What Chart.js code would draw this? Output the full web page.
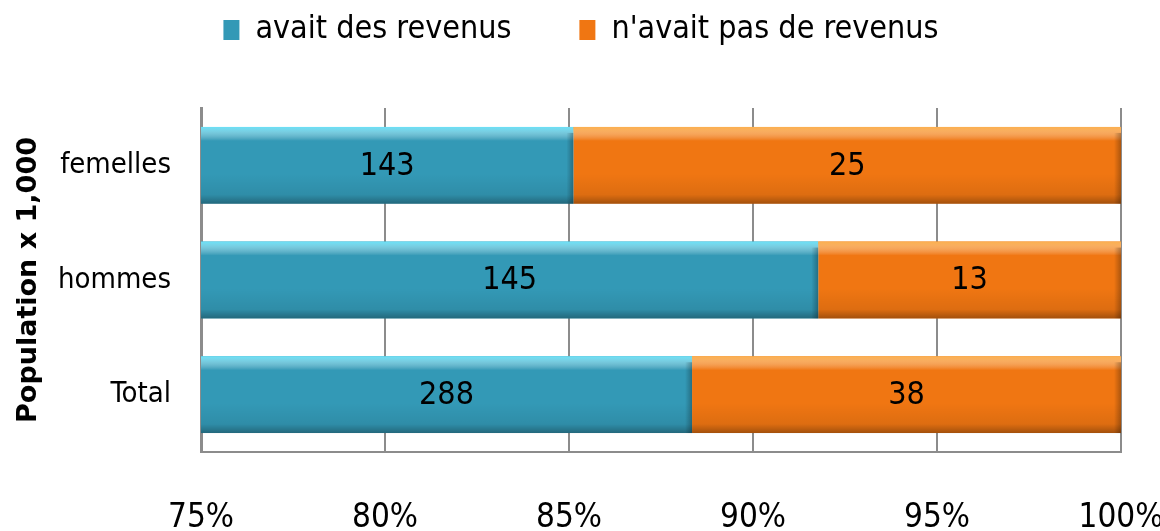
<!DOCTYPE html>
<html>
<head>
<meta charset="utf-8">
<script src="https://cdn.jsdelivr.net/npm/chart.js@4/dist/chart.umd.min.js"></script>
<style>
  html, body { margin: 0; padding: 0; background: #fff; }
  #wrap { width: 1160px; height: 531px; }
</style>
</head>
<body>
<div id="wrap"><canvas id="graf"></canvas></div>
<script>
// données
const categories = ["femelles", "hommes", "Total"];
const avecRevenus = [143, 145, 288];
const sansRevenus = [25, 13, 38];
const nomsSeries = ["avait des revenus", "n'avait pas de revenus"];
const ticksX = [75, 80, 85, 90, 95, 100];

const police = '"Liberation Sans Narrow", "DejaVu Sans Condensed", "Arial Narrow", sans-serif';
const reflets = ["rgba(110,228,250,0.95)", "rgba(252,178,80,0.95)"];

// parts en % de chaque catégorie
const totaux = avecRevenus.map((v, i) => v + sansRevenus[i]);
const pctAvec = avecRevenus.map((v, i) => v / totaux[i] * 100);
const pctSans = sansRevenus.map((v, i) => v / totaux[i] * 100);
const brutes = [avecRevenus, sansRevenus];

// effet biseauté par dessus les barres
const biseau = {
  id: "biseau",
  afterDatasetsDraw(chart) {
    const { ctx, chartArea } = chart;
    ctx.save();
    ctx.beginPath();
    ctx.rect(chartArea.left, chartArea.top, chartArea.right + 3 - chartArea.left, chartArea.bottom - chartArea.top);
    ctx.clip();
    chart.data.datasets.forEach((ds, di) => {
      chart.getDatasetMeta(di).data.forEach(bar => {
        const x0 = Math.max(Math.min(bar.base, bar.x), chartArea.left);
        const x1 = Math.max(bar.base, bar.x);
        const y0 = bar.y - bar.height / 2, y1 = bar.y + bar.height / 2;
        // reflet en haut
        let g = ctx.createLinearGradient(0, y0, 0, y0 + 14);
        g.addColorStop(0, reflets[di]);
        g.addColorStop(1, "rgba(255,255,255,0)");
        ctx.fillStyle = g;
        ctx.fillRect(x0, y0, x1 - x0, 14);
        // ombre en bas
        g = ctx.createLinearGradient(0, y1 - 30, 0, y1);
        g.addColorStop(0, "rgba(0,0,0,0)");
        g.addColorStop(0.7, "rgba(0,0,0,0.08)");
        g.addColorStop(1, "rgba(0,0,0,0.32)");
        ctx.fillStyle = g;
        ctx.fillRect(x0, y1 - 30, x1 - x0, 30);
        // ombre à droite
        g = ctx.createLinearGradient(x1 - 7, 0, x1, 0);
        g.addColorStop(0, "rgba(0,0,0,0)");
        g.addColorStop(1, "rgba(0,0,0,0.28)");
        ctx.fillStyle = g;
        ctx.fillRect(x1 - 7, y0 + 6, 7, y1 - y0 - 6);
      });
    });
    ctx.restore();
  }
};

// étiquettes de valeurs (effectifs bruts)
const etiquettes = {
  id: "etiquettes",
  afterDatasetsDraw(chart) {
    const { ctx, chartArea } = chart;
    ctx.save();
    ctx.font = "32px " + police;
    ctx.fillStyle = "#000";
    ctx.textAlign = "center";
    ctx.textBaseline = "middle";
    chart.data.datasets.forEach((ds, di) => {
      chart.getDatasetMeta(di).data.forEach((bar, i) => {
        const a = Math.max(Math.min(bar.base, bar.x), chartArea.left);
        const b = Math.max(bar.base, bar.x);
        ctx.fillText(String(brutes[di][i]), (a + b) / 2, bar.y + 1);
      });
    });
    ctx.restore();
  }
};

// légende: hauteur fixe, décalée vers le haut, centrée sur toute la largeur
const legendeMarge = {
  id: "legendeMarge",
  beforeInit(chart) {
    const fit = chart.legend.fit;
    chart.legend.fit = function () {
      fit.bind(chart.legend)();
      this.height = 108;
    };
  },
  afterLayout(chart) {
    chart.legend.top = -54;
    chart.legend.left = 2;
    chart.legend.right = chart.width;
  }
};

const ctx = document.getElementById("graf").getContext("2d");
new Chart(ctx, {
  type: "bar",
  data: {
    labels: categories,
    datasets: [
      { label: nomsSeries[0], data: pctAvec, backgroundColor: "#3399b6", borderWidth: 0 },
      { label: nomsSeries[1], data: pctSans, backgroundColor: "#f07612", borderWidth: 0 }
    ]
  },
  options: {
    indexAxis: "y",
    responsive: true,
    maintainAspectRatio: false,
    animation: false,
    datasets: { bar: { barPercentage: 0.67, categoryPercentage: 1 } },
    layout: { padding: { left: 0, right: 39, top: 0, bottom: 0 } },
    plugins: {
      tooltip: { enabled: false },
      legend: {
        position: "top",
        labels: {
          font: { family: police, size: 32 },
          color: "#000",
          boxWidth: 16,
          boxHeight: 20,
          padding: 68
        }
      }
    },
    scales: {
      x: {
        stacked: true,
        min: 75,
        max: 100,
        afterBuildTicks: s => { s.ticks = ticksX.map(v => ({ value: v })); },
        afterFit: s => { s.height = 79; s.paddingRight = 0; s.paddingLeft = 0; },
        ticks: {
          callback: v => v + "%",
          font: { family: police, size: 33 },
          color: "#000",
          padding: 47,
          maxRotation: 0
        },
        grid: { color: "#8c8c8c", lineWidth: 2, drawTicks: false },
        border: { color: "#8c8c8c", width: 2 }
      },
      y: {
        stacked: true,
        afterFit: s => { s.width = 201; },
        ticks: {
          font: { family: police, size: 29 },
          color: "#000",
          padding: 22
        },
        grid: { display: false },
        border: { color: "#8c8c8c", width: 3 },
        title: {
          display: true,
          text: "Population x 1,000",
          font: { family: "DejaVu Sans", size: 27, weight: "bold" },
          color: "#000",
          padding: { top: 13, bottom: 0 }
        }
      }
    }
  },
  plugins: [biseau, etiquettes, legendeMarge]
});
</script>
</body>
</html>
